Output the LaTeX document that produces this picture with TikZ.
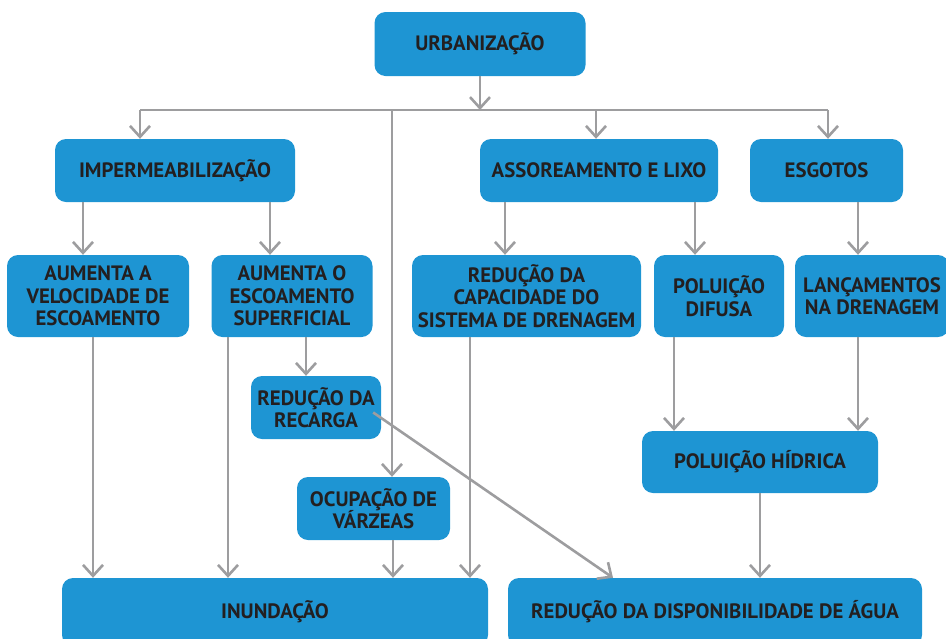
\documentclass[tikz,border=0pt]{standalone}
\usepackage{fontspec}
\setmainfont{PT Sans}
\usetikzlibrary{positioning, arrows.meta}
\definecolor{azul}{HTML}{1E95D3}
\definecolor{cinza}{HTML}{9D9D9F}
\definecolor{escuro}{HTML}{231F20}
\tikzset{
  caixa/.style={fill=azul, text=escuro, rounded corners=11pt, align=center, inner sep=0pt,
    font=\bfseries\fontsize{20.8}{22.5}\selectfont},
  seta/.style={draw=cinza, line width=2.6pt, -{Straight Barb[length=11pt,width=20pt]}},
  barra/.style={draw=cinza, line width=2.6pt}
}

\begin{document}
\begin{tikzpicture}[x=1pt, y=-1pt]
  \useasboundingbox (0,0) rectangle (946,638);
  \node[caixa, minimum width=211pt, minimum height=64pt] (urb) at (480,44) {URBANIZAÇÃO};
  \node[caixa, minimum width=240pt, minimum height=63pt] (imp) at (175,170.5) {IMPERMEABILIZAÇÃO};
  \node[caixa, minimum width=238pt, minimum height=63pt] (ass) at (599,170.5) {ASSOREAMENTO E LIXO};
  \node[caixa, minimum width=153pt, minimum height=63pt] (esg) at (826.5,170.5) {ESGOTOS};
  \node[caixa, minimum width=182pt, minimum height=82pt] (vel) at (98,296) {AUMENTA A\\VELOCIDADE DE\\ESCOAMENTO};
  \node[caixa, minimum width=161pt, minimum height=82pt] (sup) at (292,296) {AUMENTA O\\ESCOAMENTO\\SUPERFICIAL};
  \node[caixa, minimum width=229pt, minimum height=82pt] (cap) at (526.5,296) {REDUÇÃO DA\\CAPACIDADE DO\\SISTEMA DE DRENAGEM};
  \node[caixa, minimum width=130pt, minimum height=82pt] (dif) at (719,296) {POLUIÇÃO\\DIFUSA};
  \node[caixa, minimum width=154pt, minimum height=82pt] (lan) at (872,296) {LANÇAMENTOS\\NA DRENAGEM};
  \node[caixa, minimum width=130pt, minimum height=63pt] (rec) at (316,407.5) {REDUÇÃO DA\\RECARGA};
  \node[caixa, minimum width=236pt, minimum height=62pt] (hid) at (760,462) {POLUIÇÃO HÍDRICA};
  \node[caixa, minimum width=153pt, minimum height=63pt] (ocu) at (373.5,508.5) {OCUPAÇÃO DE\\VÁRZEAS};
  \node[caixa, minimum width=426pt, minimum height=68pt] (inu) at (275,612) {INUNDAÇÃO};
  \node[caixa, minimum width=414pt, minimum height=68pt] (dis) at (715,612) {REDUÇÃO DA DISPONIBILIDADE DE ÁGUA};

  % barramento
  \coordinate (bU) at (480,110);
  \coordinate (bI) at (140,110);
  \coordinate (bO) at (392,110);
  \coordinate (bA) at (596,110);
  \coordinate (bE) at (828,110);
  \draw[seta] (urb.south) -- (bU);
  \draw[barra] (bI) -- (bE);
  \draw[seta] (bI) -- (imp.north -| bI);
  \draw[seta] (bO) -- (ocu.north -| bO);
  \draw[seta] (bA) -- (ass.north -| bA);
  \draw[seta] (bE) -- (esg.north -| bE);

  \draw[seta] ([xshift=-92pt]imp.south) -- ([xshift=-15pt]vel.north);
  \draw[seta] ([xshift=95pt]imp.south) -- ([xshift=-22pt]sup.north);
  \draw[seta] ([xshift=-94pt]ass.south) -- ([xshift=-21.5pt]cap.north);
  \draw[seta] ([xshift=96pt]ass.south) -- ([xshift=-24pt]dif.north);
  \draw[seta] ([xshift=31.5pt]esg.south) -- ([xshift=-14pt]lan.north);

  \draw[seta] ([xshift=-5pt]vel.south) -- ([xshift=-182pt]inu.north);
  \draw[seta] ([xshift=-64pt]sup.south) -- ([xshift=-47pt]inu.north);
  \draw[seta] ([xshift=14pt]sup.south) -- ([xshift=-10pt]rec.north);
  \draw[seta] ([xshift=-56.5pt]cap.south) -- ([xshift=195pt]inu.north);
  \draw[seta] ([xshift=19.5pt]ocu.south) -- ([xshift=118pt]inu.north);
  \draw[seta] ([xshift=-8pt,yshift=-5pt]rec.east) -- ([xshift=-102pt]dis.north);
  % \draw[seta] (rec.east) -- (dis.north);
  \draw[seta] ([xshift=-45pt]dif.south) -- ([xshift=-86pt]hid.north);
  \draw[seta] ([xshift=-14pt]lan.south) -- ([xshift=98pt]hid.north);
  \draw[seta] (hid.south) -- ([xshift=45pt]dis.north);
\end{tikzpicture}
\end{document}
